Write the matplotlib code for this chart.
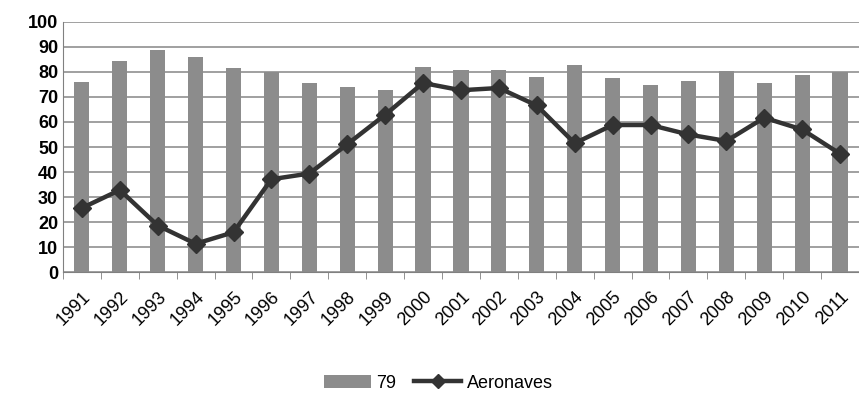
import numpy as np
import matplotlib.pyplot as plt

years = ['1991', '1992', '1993', '1994', '1995', '1996', '1997', '1998', '1999', '2000',
         '2001', '2002', '2003', '2004', '2005', '2006', '2007', '2008', '2009', '2010', '2011']
bars_79 = [76, 84.4, 88.9, 85.8, 81.4, 80, 75.5, 74.1, 72.9, 82,
           80.8, 80.8, 78.1, 82.6, 77.7, 74.9, 76.4, 80.4, 75.5, 78.9, 79.8]
aeronaves = [25.6, 32.8, 18.6, 11.3, 15.9, 37.1, 39.4, 51.1, 62.9, 75.6,
             72.7, 73.6, 66.6, 51.5, 58.8, 58.8, 55.0, 52.4, 61.7, 57.0, 47.3]

plt.rcParams['font.family'] = ['Liberation Sans', 'DejaVu Sans']

fig = plt.figure(figsize=(8.59, 3.94), dpi=100)
ax = fig.add_axes([0.0733, 0.3096, 0.9267, 0.6346])

x = np.arange(len(years))
b = ax.bar(x, bars_79, width=0.4, color='#8c8c8c', label='79', zorder=2)
ln, = ax.plot(x, aeronaves, color='#333333', linewidth=3.2, marker='D', markersize=9,
              label='Aeronaves', zorder=3)

ax.set_ylim(0, 100)
ax.set_yticks(np.arange(0, 101, 10))
ax.set_xlim(-0.5, 20.34)
ax.set_xticks(x)
ax.set_xticklabels(years, rotation=45, ha='right', rotation_mode='anchor', fontsize=13)
ax.set_xticks(np.arange(-0.5, 21, 1), minor=True)
ax.tick_params(axis='x', which='major', length=0, pad=12)
ax.tick_params(axis='x', which='minor', length=5, color='#808080')
ax.tick_params(axis='y', length=0, labelsize=13)
for lbl in ax.get_yticklabels():
    lbl.set_fontweight('bold')

ax.grid(axis='y', color='#909090', linewidth=1.2, zorder=0)
ax.set_axisbelow(True)
for s in ['top', 'right']:
    ax.spines[s].set_visible(False)
ax.spines['left'].set_color('#808080')
ax.spines['bottom'].set_color('#808080')

fig.legend([b, ln], ['79', 'Aeronaves'], loc='lower center', bbox_to_anchor=(0.51, -0.035),
           ncol=2, frameon=False, fontsize=13, handlelength=2.6, columnspacing=1.0,
           handletextpad=0.3, markerscale=0.8)

fig.savefig('out.png', dpi=100)
